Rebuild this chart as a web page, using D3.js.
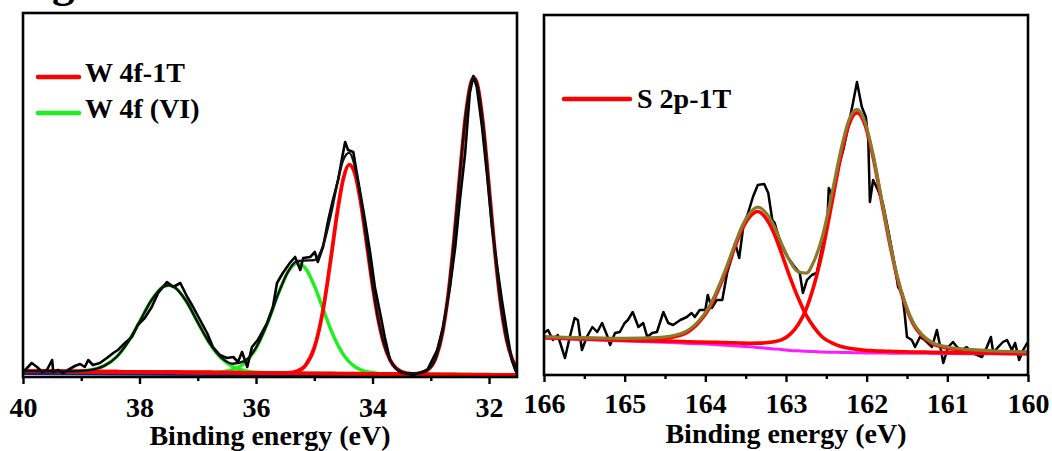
<!DOCTYPE html>
<html><head><meta charset="utf-8">
<script src="https://cdn.jsdelivr.net/npm/d3@7/dist/d3.min.js"></script>
<style>html,body{margin:0;padding:0;background:#fff;} svg{display:block;}</style>
</head><body>
<svg id="chart" width="1052" height="451"></svg>
<script>
// ---------- W 4f panel (left) ----------
const wTicksMajor = [40, 38, 36, 34, 32];
const wTicksMinor = [39, 37, 35, 33];
const wDataE = [40.0,39.93,39.85,39.76,39.67,39.59,39.50,39.48,39.40,39.31,39.23,39.11,39.02,38.94,38.88,38.80,38.68,38.56,38.45,38.37,38.25,38.13,38.03,37.91,37.79,37.68,37.53,37.42,37.30,37.18,37.08,36.96,36.84,36.74,36.62,36.50,36.39,36.31,36.24,36.15,36.07,35.97,35.81,35.71,35.64,35.54,35.42,35.33,35.24,35.19,35.07,34.99,34.94,34.85,34.76,34.68,34.59,34.52,34.47,34.42,34.33,34.27,34.21,34.13,34.04,33.96,33.87,33.79,33.70,33.61,33.53,33.30,33.06,32.89,32.79,32.67,32.58,32.50,32.41,32.33,32.27,32.21,32.12,32.03,31.95,31.86,31.78,31.69,31.61,31.55,31.52];
const wDataI = [5,9,14,10,5,7,17,5,7,4,7,11,13,10,17,12,14,19,24,27,34,40,52,59,70,84,95,90,94,80,70,57,44,30,22,19,20,15,25,10,30,37,54,70,94,104,114,120,107,119,120,125,115,130,157,177,197,220,235,227,225,204,184,157,124,90,64,40,17,9,5,2,7,27,50,90,130,177,224,284,301,290,250,200,150,110,77,44,17,7,4];
const wFitE = [40.0,39.6,39.2,38.9,38.6,38.4,38.2,38.0,37.8,37.6,37.5,37.4,37.2,37.0,36.8,36.6,36.4,36.2,36.0,35.8,35.6,35.45,35.3,35.15,35.0,34.85,34.7,34.6,34.5,34.4,34.3,34.2,34.1,34.0,33.9,33.8,33.7,33.6,33.4,33.2,33.0,32.9,32.8,32.7,32.6,32.5,32.4,32.3,32.26,32.2,32.1,32.0,31.9,31.8,31.7,31.6,31.52];
const wVI_a = [6.0,5.81,5.77,6.62,11.34,19.75,34.65,55.16,76.26,89.97,91.82,89.88,75.98,54.69,33.99,18.9,10.31,6.29,4.72,4.17,3.96,3.86,3.79,3.72,3.65,3.58,3.51,3.46,3.41,3.36,3.32,3.27,3.22,3.18,3.13,3.08,3.04,2.99,2.89,2.80,2.71,2.66,2.61,2.56,2.52,2.47,2.42,2.38,2.36,2.33,2.28,2.24,2.19,2.14,2.09,2.05,2.01];
const wVI_b = [6.0,5.81,5.62,5.48,5.34,5.25,5.15,5.06,4.96,4.87,4.82,4.78,4.68,4.61,4.63,5.12,7.25,13.76,28.72,54.42,85.83,105.06,113.79,108.52,91.35,68.08,45.11,32.46,22.41,15.16,10.22,7.07,5.2,4.15,3.58,3.28,3.1,3.0,2.89,2.80,2.71,2.66,2.61,2.56,2.52,2.47,2.42,2.38,2.36,2.33,2.28,2.24,2.19,2.14,2.09,2.05,2.01];
const w1T_52 = [6.0,5.81,5.62,5.48,5.34,5.25,5.15,5.06,4.96,4.87,4.82,4.78,4.68,4.59,4.49,4.40,4.31,4.21,4.12,4.02,3.98,4.22,5.72,11.68,29.15,66.68,124.81,166.36,198.61,212.36,202.92,173.67,133.12,91.58,56.83,32.28,17.14,9.09,3.71,2.87,2.71,2.66,2.61,2.56,2.52,2.47,2.42,2.38,2.36,2.33,2.28,2.24,2.19,2.14,2.09,2.05,2.01];
const w1T_72 = [6.0,5.81,5.62,5.48,5.34,5.25,5.15,5.06,4.96,4.87,4.82,4.78,4.68,4.59,4.49,4.40,4.31,4.21,4.12,4.02,3.93,3.86,3.79,3.72,3.65,3.58,3.51,3.46,3.41,3.36,3.32,3.27,3.22,3.18,3.13,3.08,3.04,2.99,2.94,3.55,10.01,21.26,43.91,82.66,138.32,203.57,262.52,296.18,299.36,292.23,251.98,190.14,125.69,73.04,37.69,17.65,9.3];
const wEnvelope = [6.0,5.81,5.77,6.62,11.34,19.75,34.65,55.16,76.26,89.97,91.82,89.88,75.98,54.7,34.13,19.62,13.25,15.84,29.32,54.57,85.89,105.42,115.72,116.48,116.85,131.18,166.41,195.36,217.61,224.16,209.82,177.47,135.1,92.55,57.33,32.48,17.22,9.09,3.76,3.62,10.01,21.26,43.91,82.66,138.32,203.57,262.52,296.18,299.36,292.23,251.98,190.14,125.69,73.04,37.69,17.65,9.3];
const wBaseE = [40.0, 31.52];
const wBaseI = [3.5, 0.8];
const wLegend = ["W 4f-1T", "W 4f (VI)"];

// ---------- S 2p panel (right) ----------
const sTicksMajor = [166, 165, 164, 163, 162, 161, 160];
const sTicksMinor = [165.5, 164.5, 163.5, 162.5, 161.5, 160.5];
const sDataE = [166.0,165.95,165.89,165.83,165.74,165.68,165.62,165.58,165.53,165.47,165.40,165.34,165.28,165.22,165.18,165.12,165.06,165.00,164.96,164.90,164.83,164.77,164.72,164.66,164.60,164.52,164.46,164.40,164.31,164.23,164.17,164.13,164.07,164.00,163.97,163.92,163.86,163.79,163.73,163.67,163.63,163.58,163.53,163.47,163.41,163.35,163.27,163.22,163.17,163.14,163.07,162.99,162.91,162.83,162.79,162.74,162.68,162.62,162.55,162.49,162.47,162.42,162.36,162.29,162.23,162.17,162.12,162.06,162.01,161.98,161.96,161.92,161.86,161.80,161.74,161.67,161.61,161.56,161.53,161.50,161.44,161.40,161.34,161.28,161.19,161.13,161.08,161.05,160.99,160.93,160.88,160.82,160.76,160.69,160.63,160.57,160.51,160.46,160.43,160.37,160.31,160.26,160.20,160.16,160.11,160.06,160.01];
const sDataI = [44,47,37,42,19,40,59,57,27,40,50,45,54,42,32,44,45,54,57,65,50,54,40,44,45,65,54,52,57,60,64,60,67,67,82,69,77,77,104,120,134,119,150,164,180,192,193,184,157,154,134,121,112,104,84,97,102,104,130,150,189,180,207,227,250,274,295,270,260,237,175,197,187,174,150,120,90,84,64,40,37,30,40,37,30,47,27,14,30,35,30,27,30,24,22,20,30,40,24,30,35,37,27,34,17,27,34];
const sFitE = [166.0,165.5,165.0,164.6,164.3,164.1,163.95,163.85,163.75,163.65,163.55,163.45,163.35,163.25,163.15,163.05,162.95,162.85,162.75,162.65,162.55,162.42,162.32,162.22,162.12,162.02,161.92,161.82,161.72,161.62,161.52,161.42,161.32,161.2,161.0,160.7,160.4,160.0];
const sBackground = [39,37.5,36,34.9,34,33.3,32.8,32.3,31.8,31.3,30.8,30.2,29.5,28.8,28.1,27.4,26.6,26.2,25.8,25.4,25,24.8,24.6,24.4,24.2,24,23.96,23.9,23.86,23.8,23.76,23.7,23.66,23.6,23.5,23.35,23.2,23];
const s2p12 = [39.7,38.6,37.8,38.2,42,52.8,68.8,85.3,104.8,126.3,146.8,160.2,165.5,158.8,144.1,122.4,99.6,79.2,61.8,49.4,40,33.6,30.6,28.8,27.6,26.8,26.3,25.9,25.7,25.4,25.2,25,24.9,24.7,24.4,24,23.8,23.4];
const s2p32 = [39.4,38.1,36.9,36.1,35.5,35,34.8,34.6,34.4,34.1,33.9,33.8,33.9,34.3,35.3,37.4,42.6,52.2,67.8,92.4,125,178.8,220.6,252.4,264.2,252,220,177.9,135.9,98.8,71.8,52.7,41.7,34.1,29.1,26.6,25.5,24.6];
const sEnvelope = [40.1,39.2,38.7,39.4,43.5,54.5,70.8,87.6,107.4,129.1,149.9,163.8,169.9,164.3,151.3,132.4,115.6,105.2,103.8,116.4,140,187.6,226.6,256.8,267.6,254.8,222.3,179.9,137.7,100.4,73.2,54,42.9,35.2,30,27.3,26,25];
const sLegend = ["S 2p-1T"];

const axisTitle = "Binding energy (eV)";

// ---------- drawing ----------
const FONT = '"Liberation Serif","Times New Roman",Times,serif';
const RED = "#ff0000", GREEN = "#1ef01e", NAVY = "#1b1b7a", BROWN = "#8c7a2c", PINK = "#ff1aff";
const svg = d3.select("#chart");
svg.append("rect").attr("width", 1052).attr("height", 451).attr("fill", "#fff");

// figure label, cropped at the top edge as in the reference
svg.append("text").attr("x", 12).attr("y", -3).attr("font-family", FONT).attr("font-weight", "bold")
  .attr("font-size", 45).attr("fill", "#000").text("Fig. S5");

function panel(cfg) {
  const { left, right, top, bottom, xDomain, yDomain, id } = cfg;
  const x = d3.scaleLinear().domain(xDomain).range([left, right]);
  const y = d3.scaleLinear().domain(yDomain).range([bottom, top]);
  const g = svg.append("g");
  g.append("clipPath").attr("id", id).append("rect")
    .attr("x", left).attr("y", top).attr("width", right - left).attr("height", bottom - top);
  const plot = g.append("g").attr("clip-path", `url(#${id})`);

  cfg.series.forEach(s => {
    const pts = d3.zip(s.xs, s.ys);
    plot.append("path").datum(pts)
      .attr("fill", "none").attr("stroke", s.color).attr("stroke-width", s.width)
      .attr("stroke-linejoin", "round").attr("stroke-linecap", "round")
      .attr("d", d3.line().x(d => x(d[0])).y(d => y(d[1])).curve(s.curve || d3.curveLinear));
  });

  // frame
  g.append("rect").attr("x", left).attr("y", top).attr("width", right - left).attr("height", bottom - top)
    .attr("fill", "none").attr("stroke", "#000").attr("stroke-width", 2.6);

  // minor ticks
  const minor = g.append("g").attr("transform", `translate(0,${bottom})`)
    .call(d3.axisBottom(x).tickValues(cfg.minor).tickSize(4).tickFormat(""));
  minor.select(".domain").remove();
  minor.selectAll(".tick line").attr("stroke", "#000").attr("stroke-width", 2.4);
  // major ticks
  const major = g.append("g").attr("transform", `translate(0,${bottom})`)
    .call(d3.axisBottom(x).tickValues(cfg.major).tickSize(7).tickFormat(d3.format("d")));
  major.select(".domain").remove();
  major.selectAll(".tick line").attr("stroke", "#000").attr("stroke-width", 2.4);
  major.selectAll(".tick text").attr("y", cfg.labelBase).attr("dy", 0)
    .attr("font-family", FONT).attr("font-weight", "bold").attr("font-size", 28).attr("fill", "#000");

  g.append("text").attr("x", (left + right) / 2).attr("y", cfg.titleBase).attr("text-anchor", "middle")
    .attr("font-family", FONT).attr("font-weight", "bold").attr("font-size", 28).text(axisTitle);

  cfg.legend.forEach(l => {
    g.append("line").attr("x1", l.x1).attr("x2", l.x2).attr("y1", l.y).attr("y2", l.y)
      .attr("stroke", l.color).attr("stroke-width", 4.5).attr("stroke-linecap", "round");
    g.append("text").attr("x", l.tx).attr("y", l.ty).attr("font-family", FONT).attr("font-weight", "bold")
      .attr("font-size", 28).attr("fill", "#000").text(l.label);
  });
}

const smooth = d3.curveMonotoneX;

panel({
  id: "clipW", left: 23, right: 517, top: 13, bottom: 377,
  xDomain: [40, 31.52], yDomain: [0, 364],
  major: wTicksMajor, minor: wTicksMinor, labelBase: 40, titleBase: 445,
  series: [
    { xs: wBaseE, ys: wBaseI, color: NAVY, width: 3 },
    { xs: wFitE, ys: wVI_a, color: GREEN, width: 3.5, curve: smooth },
    { xs: wFitE, ys: wVI_b, color: GREEN, width: 3.5, curve: smooth },
    { xs: wFitE, ys: w1T_52, color: RED, width: 3.8, curve: smooth },
    { xs: wFitE, ys: w1T_72, color: RED, width: 3.8, curve: smooth },
    { xs: wDataE, ys: wDataI, color: "#000", width: 2.6 },
    { xs: wFitE, ys: wEnvelope, color: "#111", width: 2.4, curve: smooth }
  ],
  legend: [
    { x1: 38, x2: 79, y: 77, color: RED, tx: 85, ty: 82, label: wLegend[0] },
    { x1: 38, x2: 79, y: 113, color: GREEN, tx: 85, ty: 118, label: wLegend[1] }
  ]
});

panel({
  id: "clipS", left: 544, right: 1028, top: 15, bottom: 375,
  xDomain: [166, 160], yDomain: [2, 362],
  major: sTicksMajor, minor: sTicksMinor, labelBase: 38, titleBase: 443,
  series: [
    { xs: sDataE, ys: sDataI, color: "#000", width: 2.5 },
    { xs: sFitE, ys: sBackground, color: PINK, width: 3, curve: smooth },
    { xs: sFitE, ys: s2p12, color: RED, width: 3.6, curve: smooth },
    { xs: sFitE, ys: s2p32, color: RED, width: 3.6, curve: smooth },
    { xs: sFitE, ys: sEnvelope, color: BROWN, width: 3.2, curve: smooth }
  ],
  legend: [
    { x1: 564, x2: 630, y: 99, color: RED, tx: 637, ty: 108, label: sLegend[0] }
  ]
});
</script>
</body></html>
